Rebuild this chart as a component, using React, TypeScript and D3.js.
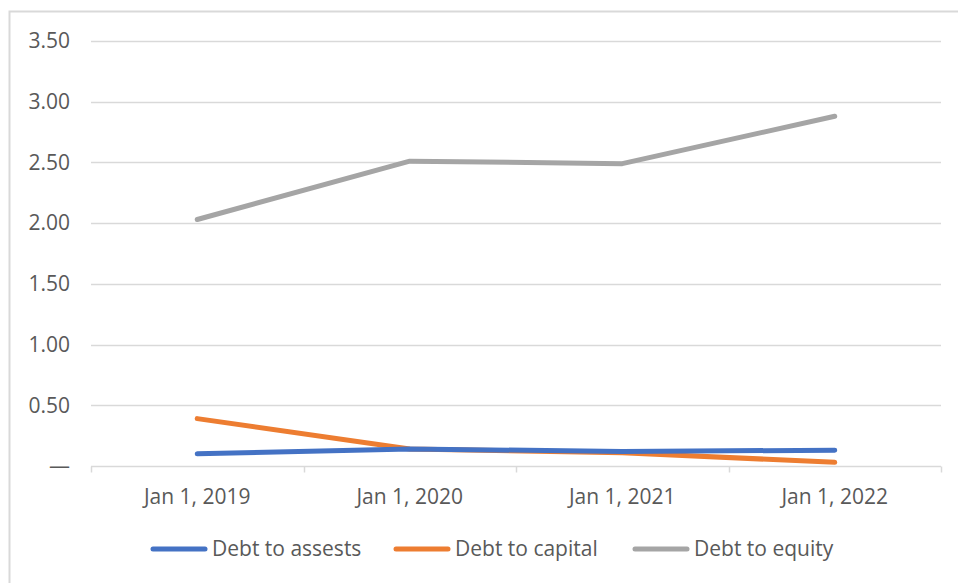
import React, { useRef, useEffect } from 'react';
import * as d3 from 'd3';

const categories = ['Jan 1, 2019', 'Jan 1, 2020', 'Jan 1, 2021', 'Jan 1, 2022'];
const debtToAssets = [0.10, 0.14, 0.12, 0.13];
const debtToCapital = [0.39, 0.14, 0.11, 0.03];
const debtToEquity = [2.03, 2.51, 2.49, 2.88];
const yTicks = [0, 0.5, 1, 1.5, 2, 2.5, 3, 3.5];

const seriesNames = ['Debt to assests', 'Debt to capital', 'Debt to equity'];
const seriesColors = ['#4472C4', '#ED7D31', '#A5A5A5'];

const WIDTH = 958;
const HEIGHT = 583;

const App: React.FC = () => {
  const ref = useRef<SVGSVGElement | null>(null);

  useEffect(() => {
    if (!ref.current) return;
    const svg = d3.select(ref.current);
    svg.selectAll('*').remove();

    const font = '"Open Sans", sans-serif';
    const fontSize = 21;
    const textColor = '#595959';
    const grid = '#D9D9D9';

    // outer chart frame (right/bottom edges fall outside the picture)
    svg.append('rect')
      .attr('x', 9.5).attr('y', 11.5)
      .attr('width', 1000).attr('height', 1000)
      .attr('fill', '#fff')
      .attr('stroke', grid)
      .attr('stroke-width', 2);

    const left = 91;
    const right = 941;
    const x = d3.scaleBand<string>()
      .domain(categories)
      .range([left, right])
      .padding(0);

    const y = d3.scaleLinear()
      .domain([0, 3.5])
      .range([466, 41]);

    // gridlines
    svg.append('g')
      .selectAll('line')
      .data(yTicks.filter((t) => t > 0))
      .enter()
      .append('line')
      .attr('x1', left).attr('x2', right)
      .attr('y1', (d) => Math.round(y(d)) + 0.5)
      .attr('y2', (d) => Math.round(y(d)) + 0.5)
      .attr('stroke', grid)
      .attr('stroke-width', 1.5);

    // y tick labels
    svg.append('g')
      .selectAll('text')
      .data(yTicks)
      .enter()
      .append('text')
      .attr('x', 70)
      .attr('y', (d) => y(d))
      .attr('dy', '0.35em')
      .attr('text-anchor', 'end')
      .attr('font-family', font)
      .attr('font-size', fontSize)
      .attr('fill', textColor)
      .text((d) => (d === 0 ? '—' : d3.format('.2f')(d)));

    // x axis
    const axisY = Math.round(y(0)) + 0.5;
    const xa = svg.append('g');
    xa.append('line')
      .attr('x1', left).attr('x2', right)
      .attr('y1', axisY).attr('y2', axisY)
      .attr('stroke', grid).attr('stroke-width', 1.5);
    const boundaries = categories.map((c) => x(c) as number).concat([right]);
    xa.selectAll('line.tick')
      .data(boundaries)
      .enter()
      .append('line')
      .attr('class', 'tick')
      .attr('x1', (d) => Math.round(d) + 0.5)
      .attr('x2', (d) => Math.round(d) + 0.5)
      .attr('y1', axisY).attr('y2', axisY + 6)
      .attr('stroke', grid).attr('stroke-width', 1.5);
    xa.selectAll('text')
      .data(categories)
      .enter()
      .append('text')
      .attr('x', (d) => (x(d) as number) + x.bandwidth() / 2)
      .attr('y', 497)
      .attr('dy', '0.35em')
      .attr('text-anchor', 'middle')
      .attr('font-family', font)
      .attr('font-size', fontSize)
      .attr('fill', textColor)
      .text((d) => d);

    // lines
    const allSeries = [debtToAssets, debtToCapital, debtToEquity];
    const line = d3.line<number>()
      .x((_, i) => (x(categories[i]) as number) + x.bandwidth() / 2)
      .y((d) => y(d));

    // draw equity first, then capital, then assets on top
    [2, 1, 0].forEach((si) => {
      svg.append('path')
        .datum(allSeries[si])
        .attr('d', line)
        .attr('fill', 'none')
        .attr('stroke', seriesColors[si])
        .attr('stroke-width', 5)
        .attr('stroke-linecap', 'round')
        .attr('stroke-linejoin', 'round');
    });

    // legend
    const legendX = [153, 396, 635];
    const lg = svg.append('g');
    seriesNames.forEach((name, i) => {
      lg.append('line')
        .attr('x1', legendX[i]).attr('x2', legendX[i] + 52)
        .attr('y1', 549).attr('y2', 549)
        .attr('stroke', seriesColors[i])
        .attr('stroke-width', 5)
        .attr('stroke-linecap', 'round');
      lg.append('text')
        .attr('x', legendX[i] + 59)
        .attr('y', 549)
        .attr('dy', '0.35em')
        .attr('font-family', font)
        .attr('font-size', fontSize)
        .attr('fill', textColor)
        .text(name);
    });
  }, []);

  return (
    <div style={{ position: 'fixed', left: 0, top: 0 }}>
      <svg ref={ref} width={WIDTH} height={HEIGHT} style={{ display: 'block', background: '#fff' }} />
    </div>
  );
};

export default App;
